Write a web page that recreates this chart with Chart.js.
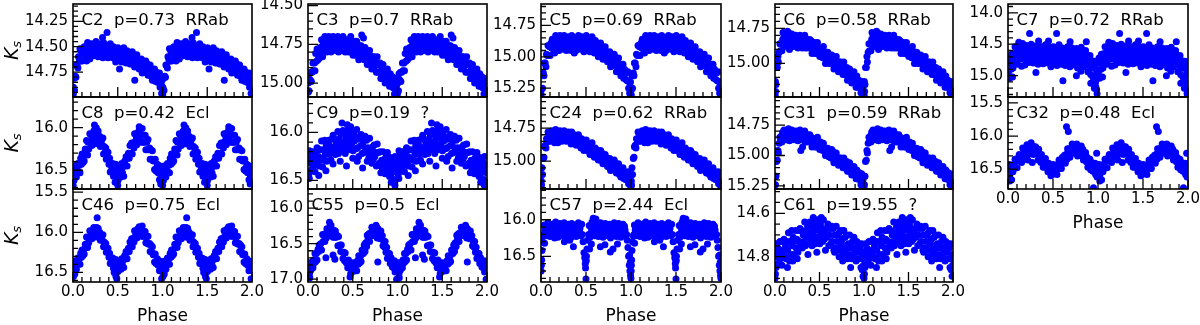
<!DOCTYPE html>
<html><head><meta charset="utf-8">
<script src="https://cdn.jsdelivr.net/npm/chart.js@4.4.1/dist/chart.umd.min.js"></script>
<style>
html,body{margin:0;padding:0;background:#fff;width:1200px;height:325px;overflow:hidden;position:relative;}
canvas{position:absolute;}
</style></head><body>
<script>
// ---- phase ticks ----
const phaseTickValues = [0, 0.5, 1.0, 1.5, 2.0];
const phaseTickLabels = ['0.0', '0.5', '1.0', '1.5', '2.0'];

// ---- y tick labels per star ----
const C2_yticks = ['14.25','14.50','14.75'];
const C8_yticks = ['16.0','16.5'];
const C46_yticks = ['15.5','16.0','16.5'];
const C3_yticks = ['14.50','14.75','15.00'];
const C9_yticks = ['16.0','16.5'];
const C55_yticks = ['16.0','16.5','17.0'];
const C5_yticks = ['14.75','15.00','15.25'];
const C24_yticks = ['14.75','15.00'];
const C57_yticks = ['16.0','16.5'];
const C6_yticks = ['14.75','15.00'];
const C31_yticks = ['14.75','15.00','15.25'];
const C61_yticks = ['14.6','14.8'];
const C7_yticks = ['14.0','14.5','15.0'];
const C32_yticks = ['15.5','16.0','16.5'];

// ---- phases of the observations (one cycle; each point is also shown at phase+1) ----
const phaseGrid = [0.004,0.011,0.017,0.026,0.033,0.038,0.047,0.055,0.061,0.072,
0.078,0.086,0.094,0.101,0.112,0.118,0.125,0.137,0.142,0.151,
0.163,0.169,0.176,0.188,0.193,0.204,0.211,0.219,0.232,0.238,
0.245,0.257,0.263,0.274,0.281,0.289,0.298,0.306,0.317,0.322,
0.334,0.341,0.348,0.359,0.366,0.372,0.385,0.391,0.402,0.409,
0.416,0.428,0.433,0.444,0.452,0.459,0.468,0.477,0.486,0.492,
0.503,0.511,0.518,0.529,0.536,0.544,0.553,0.561,0.567,0.578,
0.586,0.593,0.604,0.611,0.619,0.628,0.637,0.643,0.655,0.662,
0.669,0.681,0.688,0.696,0.707,0.713,0.722,0.731,0.739,0.747,
0.756,0.764,0.773,0.782,0.788,0.797,0.806,0.814,0.823,0.831,
0.838,0.847,0.856,0.862,0.871,0.879,0.887,0.896,0.903,0.911,
0.919,0.928,0.934,0.943,0.951,0.958,0.966,0.973,0.981,0.988,0.995];

// ---- Ks magnitudes at phaseGrid, plus extra [phase, Ks] points ----
const C2_mag = [14.90,14.81,14.93,14.79,14.80,14.68,14.69,14.71,14.60,14.63,
14.52,14.64,14.55,14.64,14.52,14.57,14.50,14.59,14.53,14.64,
14.46,14.58,14.49,14.62,14.52,14.58,14.47,14.54,14.59,14.49,
14.55,14.45,14.58,14.52,14.60,14.49,14.57,14.47,14.54,14.50,
14.61,14.46,14.56,14.53,14.59,14.49,14.54,14.61,14.50,14.59,
14.47,14.57,14.53,14.61,14.50,14.60,14.52,14.65,14.54,14.58,
14.51,14.62,14.57,14.60,14.53,14.65,14.56,14.61,14.51,14.63,
14.58,14.66,14.54,14.61,14.64,14.57,14.67,14.60,14.67,14.55,
14.63,14.58,14.70,14.61,14.66,14.58,14.69,14.63,14.72,14.66,
14.69,14.62,14.76,14.65,14.72,14.68,14.75,14.64,14.72,14.67,
14.78,14.71,14.76,14.68,14.79,14.72,14.83,14.76,14.79,14.72,
14.84,14.75,14.79,14.85,14.79,14.85,14.76,14.90,14.84,14.88,14.83];
const C2_extra = [[0.33,14.41],[0.38,14.36],[0.69,14.83],[0.52,14.72],[0.002,14.97],[0.99,14.96],[0.008,14.92]];

const C8_mag = [16.51,16.62,16.45,16.54,16.47,16.58,16.50,16.42,16.52,16.44,
16.53,16.36,16.43,16.31,16.41,16.33,16.39,16.25,16.29,16.15,
16.32,16.17,16.25,16.07,16.17,16.09,16.21,16.12,16.04,16.14,
16.08,16.19,16.04,16.12,16.04,16.18,16.10,16.22,16.16,16.21,
16.12,16.31,16.22,16.29,16.24,16.37,16.35,16.29,16.43,16.36,
16.52,16.44,16.49,16.42,16.57,16.47,16.57,16.43,16.57,16.53,
16.62,16.48,16.55,16.50,16.58,16.42,16.53,16.46,16.57,16.39,
16.44,16.34,16.45,16.36,16.30,16.36,16.21,16.30,16.18,16.31,
16.19,16.24,16.07,16.16,16.10,16.20,16.06,16.15,16.03,16.11,
16.08,16.17,16.01,16.17,16.09,16.17,16.09,16.26,16.17,16.26,
16.14,16.26,16.24,16.37,16.26,16.37,16.27,16.39,16.38,16.49,
16.37,16.51,16.47,16.43,16.53,16.47,16.61,16.45,16.56,16.53,16.60];
const C8_extra = [[0.24,15.97],[0.26,16.00],[0.74,15.99],[0.75,16.02],[0.002,16.68],[0.50,16.68],[0.98,16.66],[0.47,16.64]];

const C46_mag = [16.41,16.49,16.36,16.43,16.37,16.46,16.39,16.32,16.40,16.33,
16.40,16.26,16.31,16.22,16.29,16.22,16.27,16.15,16.18,16.06,
16.19,16.07,16.13,15.98,16.06,15.99,16.08,16.01,15.94,16.02,
15.97,16.06,15.94,16.01,15.95,16.06,16.00,16.10,16.05,16.09,
16.03,16.18,16.12,16.18,16.14,16.25,16.24,16.20,16.31,16.26,
16.39,16.33,16.38,16.32,16.45,16.37,16.45,16.34,16.45,16.42,
16.49,16.38,16.44,16.40,16.46,16.33,16.41,16.35,16.44,16.29,
16.33,16.24,16.33,16.25,16.20,16.24,16.12,16.18,16.08,16.18,
16.08,16.12,15.98,16.05,16.00,16.07,15.96,16.03,15.93,16.00,
15.97,16.05,15.92,16.05,15.99,16.05,15.99,16.13,16.06,16.14,
16.05,16.15,16.14,16.24,16.16,16.25,16.18,16.28,16.27,16.37,
16.27,16.39,16.36,16.33,16.41,16.37,16.48,16.36,16.45,16.42,16.48];
const C46_extra = [[0.27,15.82],[0.48,16.55],[0.49,16.58],[0.99,16.58],[0.005,16.55],[0.46,16.50],[0.02,16.52]];

const C3_mag = [15.00,15.05,14.94,14.98,14.93,14.99,14.93,14.87,14.92,14.87,
14.92,14.81,14.86,14.78,14.85,14.80,14.84,14.77,14.79,14.72,
14.83,14.75,14.80,14.70,14.77,14.72,14.80,14.75,14.70,14.78,
14.74,14.80,14.71,14.76,14.70,14.78,14.73,14.79,14.74,14.77,
14.70,14.80,14.73,14.76,14.71,14.79,14.75,14.70,14.77,14.72,
14.80,14.74,14.76,14.72,14.80,14.74,14.79,14.70,14.79,14.76,
14.82,14.73,14.79,14.76,14.82,14.73,14.81,14.78,14.85,14.76,
14.81,14.76,14.84,14.81,14.79,14.85,14.77,14.84,14.79,14.88,
14.82,14.88,14.79,14.86,14.83,14.91,14.83,14.89,14.83,14.89,
14.87,14.93,14.83,14.93,14.88,14.93,14.87,14.97,14.91,14.97,
14.88,14.95,14.92,15.00,14.92,14.98,14.91,14.98,14.96,15.02,
14.94,15.02,14.99,14.96,15.03,14.99,15.07,14.97,15.04,15.02,15.07];
const C3_extra = [[0.60,14.69],[0.62,14.71],[0.995,15.08],[0.002,15.06]];

const C9_mag = [16.29,16.43,16.19,16.32,16.24,16.39,16.30,16.20,16.35,16.26,
16.41,16.20,16.31,16.16,16.33,16.25,16.35,16.18,16.27,16.09,
16.36,16.18,16.29,16.08,16.23,16.13,16.30,16.19,16.08,16.23,
16.14,16.29,16.07,16.16,16.03,16.21,16.07,16.23,16.11,16.16,
15.99,16.22,16.07,16.12,16.02,16.18,16.10,15.98,16.15,16.02,
16.22,16.06,16.12,15.98,16.18,16.02,16.15,15.94,16.12,16.07,
16.19,16.00,16.09,16.05,16.17,15.97,16.16,16.07,16.25,16.04,
16.14,16.02,16.22,16.13,16.08,16.21,16.04,16.19,16.08,16.30,
16.16,16.26,16.06,16.23,16.17,16.32,16.15,16.28,16.13,16.25,
16.21,16.35,16.12,16.34,16.21,16.32,16.20,16.42,16.29,16.38,
16.20,16.34,16.28,16.43,16.26,16.40,16.21,16.36,16.32,16.46,
16.26,16.43,16.37,16.29,16.41,16.31,16.49,16.25,16.38,16.34,16.42];
const C9_extra = [[0.38,15.90],[0.44,15.92],[0.43,16.35],[0.55,16.30],[0.61,16.37],[0.93,16.52],[0.97,16.55],[0.20,16.40],[0.12,16.45],[0.28,16.33],[0.015,16.48],[0.50,16.27],[0.36,16.30]];

const C55_mag = [16.87,16.77,16.92,16.82,16.87,16.77,16.79,16.84,16.73,16.77,
16.64,16.75,16.64,16.73,16.58,16.61,16.52,16.58,16.50,16.59,
16.37,16.47,16.38,16.47,16.36,16.42,16.29,16.34,16.39,16.28,
16.34,16.24,16.37,16.32,16.41,16.31,16.41,16.32,16.41,16.38,
16.53,16.40,16.53,16.52,16.61,16.52,16.62,16.71,16.62,16.74,
16.63,16.77,16.74,16.84,16.73,16.84,16.77,16.92,16.81,16.85,
16.77,16.89,16.83,16.86,16.77,16.88,16.74,16.79,16.67,16.77,
16.68,16.75,16.59,16.63,16.64,16.52,16.61,16.49,16.54,16.38,
16.45,16.36,16.47,16.35,16.39,16.27,16.38,16.29,16.38,16.31,
16.34,16.26,16.42,16.29,16.40,16.34,16.43,16.32,16.42,16.39,
16.53,16.47,16.55,16.47,16.62,16.55,16.71,16.64,16.69,16.64,
16.78,16.70,16.76,16.83,16.76,16.84,16.74,16.90,16.82,16.85,16.79];
const C55_extra = [[0.24,16.20],[0.20,16.70],[0.28,16.66],[0.78,16.76],[0.76,16.24],[0.99,17.00],[0.47,16.97],[0.30,16.72],[0.02,16.98]];

const C5_mag = [15.26,15.15,15.25,15.13,15.15,15.05,15.05,15.08,14.98,14.99,
14.91,14.99,14.92,14.99,14.89,14.93,14.86,14.94,14.89,14.97,
14.83,14.91,14.85,14.95,14.88,14.93,14.83,14.89,14.94,14.86,
14.90,14.83,14.93,14.88,14.95,14.85,14.92,14.84,14.90,14.87,
14.95,14.83,14.91,14.88,14.93,14.85,14.89,14.95,14.86,14.93,
14.83,14.90,14.88,14.94,14.84,14.92,14.85,14.96,14.87,14.90,
14.83,14.93,14.88,14.92,14.86,14.96,14.87,14.92,14.84,14.95,
14.91,14.97,14.87,14.93,14.96,14.90,15.00,14.92,14.99,14.89,
14.97,14.92,15.02,14.96,14.99,14.92,15.02,14.96,15.04,14.99,
15.01,14.96,15.08,14.99,15.05,15.01,15.07,14.98,15.06,15.01,
15.12,15.05,15.09,15.01,15.12,15.06,15.15,15.09,15.11,15.06,
15.17,15.10,15.13,15.18,15.13,15.19,15.12,15.25,15.20,15.24,15.20];
const C5_extra = [[0.999,15.31],[0.002,15.30],[0.985,15.29],[0.37,14.97],[0.20,14.95]];

const C24_mag = [15.15,15.05,15.10,14.98,14.97,14.89,14.88,14.90,14.83,14.84,
14.78,14.85,14.80,14.85,14.78,14.81,14.77,14.83,14.80,14.86,
14.76,14.83,14.78,14.86,14.80,14.84,14.77,14.81,14.85,14.79,
14.82,14.77,14.84,14.81,14.85,14.79,14.83,14.78,14.82,14.81,
14.87,14.78,14.84,14.82,14.86,14.80,14.83,14.88,14.82,14.87,
14.80,14.86,14.84,14.90,14.83,14.88,14.85,14.92,14.86,14.88,
14.84,14.92,14.89,14.91,14.87,14.95,14.89,14.92,14.86,14.95,
14.91,14.97,14.90,14.94,14.96,14.92,14.99,14.94,14.99,14.92,
14.97,14.94,15.02,14.97,15.00,14.95,15.02,14.98,15.04,15.00,
15.02,14.98,15.07,15.00,15.04,15.02,15.06,14.99,15.05,15.02,
15.09,15.04,15.08,15.02,15.10,15.05,15.12,15.08,15.09,15.05,
15.13,15.08,15.10,15.14,15.10,15.14,15.08,15.17,15.12,15.15,15.11];
const C24_extra = [[0.999,15.19],[0.992,15.18],[0.006,15.18]];

const C57_mag = [16.62,16.42,16.30,16.22,16.20,16.07,16.14,16.22,16.10,16.16,
16.04,16.21,16.11,16.23,16.09,16.15,16.06,16.18,16.12,16.25,
16.03,16.17,16.07,16.24,16.12,16.20,16.05,16.14,16.22,16.10,
16.16,16.04,16.21,16.13,16.23,16.08,16.18,16.06,16.15,16.11,
16.24,16.05,16.17,16.13,16.21,16.07,16.14,16.23,16.10,16.20,
16.04,16.16,16.12,16.22,16.06,16.20,16.30,16.45,16.52,16.60,
16.56,16.40,16.28,16.20,16.08,16.24,16.10,16.16,16.03,16.20,
16.12,16.22,16.06,16.14,16.18,16.09,16.23,16.11,16.21,16.04,
16.15,16.07,16.24,16.12,16.17,16.05,16.20,16.10,16.22,16.13,
16.16,16.06,16.25,16.09,16.18,16.11,16.21,16.04,16.15,16.07,
16.23,16.12,16.17,16.05,16.20,16.10,16.24,16.13,16.16,16.06,
16.22,16.09,16.14,16.21,16.20,16.28,16.38,16.50,16.62,16.70,16.76];
const C57_extra = [[0.50,16.81],[0.495,16.66],[0.497,16.55],[0.505,16.50],[0.999,16.80],[0.002,16.70],[0.007,16.55],[0.985,16.48],[0.992,16.58],[0.36,16.37],[0.66,16.37],[0.77,16.44],[0.80,16.40],[0.58,15.98],[0.61,15.99],[0.26,16.30],[0.32,16.28],[0.71,16.34],[0.85,16.33],[0.56,16.33],[0.54,16.40],[0.04,16.32]];

const C6_mag = [15.13,15.15,15.03,15.03,14.95,14.99,14.92,14.86,14.91,14.86,
14.91,14.83,14.87,14.81,14.87,14.83,14.88,14.82,14.85,14.78,
14.90,14.82,14.87,14.79,14.85,14.81,14.88,14.84,14.80,14.86,
14.83,14.89,14.81,14.85,14.80,14.87,14.82,14.89,14.84,14.87,
14.80,14.89,14.84,14.87,14.83,14.89,14.87,14.83,14.89,14.84,
14.93,14.87,14.89,14.85,14.93,14.87,14.93,14.85,14.92,14.90,
14.95,14.89,14.93,14.90,14.96,14.88,14.96,14.93,15.00,14.92,
14.96,14.92,15.00,14.97,14.95,15.00,14.94,15.00,14.96,15.04,
14.98,15.03,14.95,15.02,14.99,15.06,14.99,15.05,14.99,15.04,
15.03,15.08,14.99,15.08,15.03,15.08,15.03,15.12,15.06,15.11,
15.04,15.10,15.07,15.14,15.07,15.13,15.06,15.13,15.11,15.17,
15.09,15.17,15.14,15.12,15.17,15.14,15.21,15.13,15.18,15.17,15.21];
const C6_extra = [[0.002,15.23],[0.998,15.24],[0.007,15.20],[0.09,14.78],[0.14,14.77]];

const C31_mag = [15.17,15.17,15.05,15.04,14.96,14.98,14.90,14.85,14.89,14.84,
14.89,14.81,14.85,14.79,14.86,14.83,14.87,14.81,14.84,14.78,
14.88,14.82,14.86,14.79,14.84,14.81,14.87,14.83,14.80,14.85,
14.82,14.88,14.80,14.84,14.79,14.86,14.81,14.87,14.84,14.86,
14.80,14.89,14.84,14.86,14.83,14.89,14.86,14.83,14.89,14.85,
14.93,14.87,14.89,14.86,14.93,14.87,14.93,14.85,14.92,14.91,
14.95,14.89,14.93,14.92,14.96,14.90,14.96,14.94,15.00,14.94,
14.97,14.94,15.01,14.98,14.96,15.02,14.95,15.02,14.97,15.06,
15.01,15.05,14.98,15.04,15.02,15.08,15.02,15.07,15.02,15.06,
15.05,15.10,15.02,15.10,15.05,15.10,15.05,15.13,15.09,15.13,
15.06,15.12,15.10,15.16,15.10,15.15,15.09,15.14,15.13,15.19,
15.12,15.19,15.17,15.14,15.20,15.16,15.24,15.15,15.21,15.20,15.24];
const C31_extra = [[0.29,14.96],[0.31,14.93],[0.999,15.26],[0.005,15.24]];

const C61_mag = [14.78,14.85,14.74,14.80,14.76,14.83,14.79,14.73,14.81,14.77,
14.84,14.73,14.79,14.72,14.80,14.75,14.81,14.73,14.77,14.69,
14.82,14.73,14.79,14.68,14.75,14.71,14.79,14.73,14.68,14.76,
14.72,14.78,14.68,14.73,14.67,14.74,14.68,14.76,14.70,14.73,
14.64,14.75,14.68,14.71,14.66,14.74,14.69,14.64,14.72,14.66,
14.75,14.68,14.70,14.64,14.74,14.66,14.72,14.63,14.71,14.68,
14.74,14.65,14.70,14.67,14.73,14.63,14.72,14.69,14.77,14.67,
14.71,14.65,14.75,14.70,14.67,14.74,14.66,14.73,14.67,14.77,
14.70,14.76,14.66,14.73,14.70,14.77,14.69,14.76,14.68,14.74,
14.72,14.79,14.68,14.77,14.71,14.76,14.70,14.81,14.74,14.79,
14.70,14.76,14.74,14.81,14.73,14.79,14.71,14.78,14.76,14.82,
14.73,14.81,14.78,14.74,14.81,14.76,14.85,14.74,14.81,14.79,14.84];
const C61_extra = [[0.0,14.90],[0.005,14.88],[0.99,14.89],[0.98,14.86],[0.37,14.79],[0.47,14.78],[0.25,14.81],[0.72,14.80],[0.76,14.82],[0.67,14.78],[0.14,14.85],[0.43,14.62],[0.52,14.62],[0.20,14.82],[0.85,14.85]];

const C7_mag = [14.96,14.72,15.04,14.80,14.90,14.66,14.76,14.88,14.65,14.75,
14.54,14.80,14.63,14.82,14.59,14.70,14.54,14.74,14.63,14.85,
14.49,14.72,14.56,14.83,14.63,14.75,14.52,14.66,14.79,14.59,
14.70,14.50,14.77,14.64,14.80,14.57,14.73,14.53,14.68,14.61,
14.82,14.52,14.71,14.64,14.77,14.55,14.67,14.81,14.60,14.76,
14.51,14.71,14.63,14.80,14.54,14.75,14.59,14.86,14.63,14.70,
14.54,14.79,14.66,14.73,14.57,14.84,14.62,14.73,14.51,14.78,
14.65,14.82,14.56,14.69,14.77,14.61,14.84,14.65,14.81,14.54,
14.72,14.59,14.86,14.66,14.75,14.56,14.79,14.63,14.83,14.68,
14.74,14.57,14.88,14.61,14.77,14.65,14.82,14.55,14.73,14.61,
14.86,14.69,14.78,14.60,14.83,14.68,14.94,14.76,14.84,14.68,
14.98,14.76,14.88,15.02,14.86,15.02,14.77,15.11,14.90,14.95,14.80];
const C7_extra = [[0.24,14.33],[0.54,14.33],[0.87,14.46],[0.61,15.08],[0.76,15.00],[0.99,15.29],[0.96,15.20],[0.975,15.18],[0.92,15.12],[0.34,14.45],[0.45,14.45],[0.12,14.47],[0.69,14.46],[0.05,15.02],[0.985,15.22],[0.31,14.95],[0.81,14.93]];

const C32_mag = [16.54,16.43,16.60,16.49,16.55,16.44,16.48,16.54,16.43,16.47,
16.35,16.48,16.38,16.48,16.33,16.37,16.28,16.37,16.29,16.40,
16.18,16.29,16.20,16.32,16.21,16.27,16.13,16.20,16.27,16.15,
16.21,16.10,16.25,16.19,16.28,16.16,16.26,16.16,16.25,16.22,
16.36,16.20,16.33,16.31,16.40,16.28,16.37,16.47,16.36,16.47,
16.34,16.47,16.44,16.54,16.41,16.53,16.45,16.60,16.48,16.52,
16.43,16.57,16.50,16.53,16.44,16.58,16.43,16.49,16.36,16.49,
16.40,16.49,16.32,16.38,16.40,16.29,16.41,16.28,16.35,16.19,
16.27,16.19,16.32,16.20,16.24,16.12,16.25,16.16,16.26,16.18,
16.21,16.12,16.30,16.15,16.25,16.19,16.29,16.15,16.26,16.20,
16.36,16.27,16.34,16.25,16.39,16.32,16.47,16.38,16.43,16.35,
16.51,16.40,16.46,16.53,16.45,16.53,16.41,16.58,16.49,16.52,16.45];
const C32_extra = [[0.65,15.86],[0.67,15.93],[0.95,16.78],[0.02,16.68],[0.04,16.66],[0.99,16.62],[0.985,16.26],[0.22,16.36],[0.27,16.40]];

// ---- panel setup ----
const panels = [
  {id:'C2',  period:'0.73',  cls:'RRab', mag:C2_mag,  extra:C2_extra,  yt:C2_yticks,  yr:[14.08,14.995], ym:0.05, col:0,row:0},
  {id:'C8',  period:'0.42',  cls:'Ecl',  mag:C8_mag,  extra:C8_extra,  yt:C8_yticks,  yr:[15.64,16.72], ym:0.1,  col:0,row:1},
  {id:'C46', period:'0.75',  cls:'Ecl',  mag:C46_mag, extra:C46_extra, yt:C46_yticks, yr:[15.46,16.62], ym:0.1,  col:0,row:2, xlab:true},
  {id:'C3',  period:'0.7',   cls:'RRab', mag:C3_mag,  extra:C3_extra,  yt:C3_yticks,  yr:[14.49,15.09], ym:0.05, col:1,row:0},
  {id:'C9',  period:'0.19',  cls:'?',    mag:C9_mag,  extra:C9_extra,  yt:C9_yticks,  yr:[15.63,16.59], ym:0.1,  col:1,row:1},
  {id:'C55', period:'0.5',   cls:'Ecl',  mag:C55_mag, extra:C55_extra, yt:C55_yticks, yr:[15.73,17.04], ym:0.1,  col:1,row:2, xlab:true, tx:3.5},
  {id:'C5',  period:'0.69',  cls:'RRab', mag:C5_mag,  extra:C5_extra,  yt:C5_yticks,  yr:[14.58,15.32], ym:0.05, col:2,row:0},
  {id:'C24', period:'0.62',  cls:'RRab', mag:C24_mag, extra:C24_extra, yt:C24_yticks, yr:[14.515,15.21], ym:0.05, col:2,row:1},
  {id:'C57', period:'2.44',  cls:'Ecl',  mag:C57_mag, extra:C57_extra, yt:C57_yticks, yr:[15.58,16.85], ym:0.1,  col:2,row:2, xlab:true},
  {id:'C6',  period:'0.58',  cls:'RRab', mag:C6_mag,  extra:C6_extra,  yt:C6_yticks,  yr:[14.576,15.24], ym:0.05, col:3,row:0},
  {id:'C31', period:'0.59',  cls:'RRab', mag:C31_mag, extra:C31_extra, yt:C31_yticks, yr:[14.52,15.275], ym:0.05, col:3,row:1},
  {id:'C61', period:'19.55', cls:'?',    mag:C61_mag, extra:C61_extra, yt:C61_yticks, yr:[14.488,14.917], ym:0.05, col:3,row:2, xlab:true},
  {id:'C7',  period:'0.72',  cls:'RRab', mag:C7_mag,  extra:C7_extra,  yt:C7_yticks,  yr:[13.86,15.34], ym:0.1,  col:4,row:0},
  {id:'C32', period:'0.48',  cls:'Ecl',  mag:C32_mag, extra:C32_extra, yt:C32_yticks, yr:[15.41,16.80], ym:0.1,  col:4,row:1, xlab:true}
];

const colL = [73, 308, 541, 775, 1008];
const colR = [252, 487, 721, 953, 1188];
const rowT = [4, 97, 189];
const rowB = [97, 189, 282];
const FONT = 'DejaVu Sans';
Chart.defaults.font.family = FONT;
Chart.defaults.color = '#000';

function fold(mag, extra){
  const out = [];
  const n = Math.min(mag.length, phaseGrid.length);
  for (let i = 0; i < n; i++) { out.push({x:phaseGrid[i], y:mag[i]}); out.push({x:phaseGrid[i] + 1, y:mag[i]}); }
  for (const [p, m] of extra) { out.push({x:p, y:m}); out.push({x:p + 1, y:m}); }
  return out;
}

const NB = '\u00A0\u00A0';
const deco = {
  id:'deco',
  afterDraw(chart){
    const cfg = chart.config.options.plugins.deco;
    const ctx = chart.ctx, a = chart.chartArea, xs = chart.scales.x, ys = chart.scales.y;
    ctx.save();
    ctx.strokeStyle = '#000';
    ctx.lineWidth = 1.3;
    ctx.beginPath();
    for (let i = 0; i <= 20; i++) {
      const px = xs.getPixelForValue(i / 10);
      const len = (i % 5 === 0) ? 10 : 5;
      ctx.moveTo(px, a.bottom); ctx.lineTo(px, a.bottom - len);
    }
    const majors = cfg.yt.map(Number);
    const k0 = Math.ceil(cfg.yr[0] / cfg.ym - 1e-6), k1 = Math.floor(cfg.yr[1] / cfg.ym + 1e-6);
    for (let k = k0; k <= k1; k++) {
      const v = k * cfg.ym;
      const isMajor = majors.some(m => Math.abs(m - v) < 1e-6);
      const py = ys.getPixelForValue(v);
      ctx.moveTo(a.left, py); ctx.lineTo(a.left + (isMajor ? 10 : 5), py);
    }
    ctx.stroke();
    ctx.lineWidth = 1.6;
    ctx.strokeRect(a.left, a.top, a.right - a.left, a.bottom - a.top);
    ctx.fillStyle = '#000';
    ctx.font = '16.5px "' + FONT + '"';
    ctx.textBaseline = 'alphabetic';
    ctx.textAlign = 'left';
    ctx.fillText(cfg.id + NB + 'p=' + cfg.period + NB + cfg.cls, a.left + (cfg.tx !== undefined ? cfg.tx : 8.5), a.top + 21);
    if (cfg.xlab) {
      ctx.textAlign = 'center';
      ctx.font = '17px "' + FONT + '"';
      ctx.fillText('Phase', (a.left + a.right) / 2, a.bottom + 39);
    }
    if (cfg.col === 0) {
      const cy = (a.top + a.bottom) / 2;
      ctx.translate(a.left - 55, cy);
      ctx.rotate(-Math.PI / 2);
      ctx.font = 'italic 19px "' + FONT + '"';
      const wK = ctx.measureText('K').width;
      ctx.font = 'italic 13px "' + FONT + '"';
      const wS = ctx.measureText('s').width;
      const x0 = -(wK + wS) / 2;
      ctx.textAlign = 'left';
      ctx.font = 'italic 19px "' + FONT + '"';
      ctx.fillText('K', x0, 0);
      ctx.font = 'italic 13px "' + FONT + '"';
      ctx.fillText('s', x0 + wK, 3);
    }
    ctx.restore();
  }
};

const Lm = 70, Tm = 16, Rm = 18;
panels.forEach(cfg => {
  const x0 = colL[cfg.col], x1 = colR[cfg.col], y0 = rowT[cfg.row], y1 = rowB[cfg.row];
  const w = x1 - x0, h = y1 - y0;
  const Bm = cfg.xlab ? 45 : 16;
  const W = w + Lm + Rm, H = h + Tm + Bm;
  const cv = document.createElement('canvas');
  cv.width = W; cv.height = H;
  cv.style.left = (x0 - Lm) + 'px'; cv.style.top = (y0 - Tm) + 'px';
  cv.style.width = W + 'px'; cv.style.height = H + 'px';
  document.body.appendChild(cv);
  new Chart(cv, {
    type:'scatter',
    data:{datasets:[{data:fold(cfg.mag, cfg.extra), pointRadius:3.5, pointHoverRadius:3.5, pointBorderWidth:0, borderWidth:0,
      backgroundColor:'#0000ff', borderColor:'#0000ff', clip:0}]},
    options:{
      responsive:false, animation:false, devicePixelRatio:1, events:[],
      layout:{padding:{left:0, top:Tm, right:Rm, bottom:0}},
      plugins:{legend:{display:false}, tooltip:{enabled:false}, deco:cfg},
      scales:{
        x:{type:'linear', min:0, max:2,
          grid:{display:false, drawTicks:false}, border:{display:false},
          ticks:{display:!!cfg.xlab, padding:1, font:{size:15}, color:'#000', autoSkip:false, maxRotation:0,
            callback:(v, i) => phaseTickLabels[i]},
          afterBuildTicks: s => { s.ticks = phaseTickValues.map(v => ({value:v})); },
          afterFit: s => { s.height = Bm; }
        },
        y:{type:'linear', reverse:true, min:cfg.yr[0], max:cfg.yr[1],
          grid:{display:false, drawTicks:false}, border:{display:false},
          ticks:{padding:5, font:{size:15}, color:'#000', autoSkip:false,
            callback:(v, i) => cfg.yt[i]},
          afterBuildTicks: s => { s.ticks = cfg.yt.map(t => ({value:Number(t)})); },
          afterFit: s => { s.width = Lm; }
        }
      }
    },
    plugins:[deco]
  });
});
</script>
</body></html>
